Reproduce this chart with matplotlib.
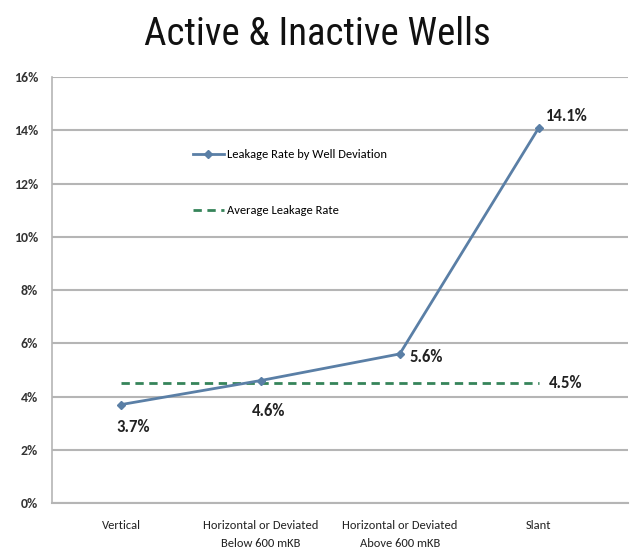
import matplotlib
matplotlib.use("Agg")
import matplotlib.pyplot as plt

categories = ["Vertical", "Horizontal or Deviated\nBelow 600 mKB",
              "Horizontal or Deviated\nAbove 600 mKB", "Slant"]
leak_rate = [3.7, 4.6, 5.6, 14.1]
avg_rate = 4.5
point_labels = ["3.7%", "4.6%", "5.6%", "14.1%"]
y_ticks = [0, 2, 4, 6, 8, 10, 12, 14, 16]

plt.rcParams['font.family'] = ['Carlito', 'DejaVu Sans']

line_col = '#5a7fa6'
avg_col = '#36845a'

fig = plt.figure(figsize=(6.33, 5.54), dpi=100)
ax = fig.add_axes([0.082, 0.092, 0.910, 0.769])

x = list(range(len(categories)))
ax.plot(x, leak_rate, color=line_col, linewidth=2, marker='D', markersize=4,
        label="Leakage Rate by Well Deviation", zorder=5)
ax.plot([x[0], x[-1]], [avg_rate, avg_rate], color=avg_col, linewidth=2,
        linestyle=(0, (3, 2)), label="Average Leakage Rate", zorder=4)

# data labels (offset from point, in data units)
offsets = [(-0.035, -0.86), (0.06, -1.15), (0.07, -0.1), (0.05, 0.45)]
aligns = ['left', 'center', 'left', 'left']
for i, (dx, dy) in enumerate(offsets):
    ax.text(x[i] + dx, leak_rate[i] + dy, point_labels[i], fontsize=12, fontweight='bold',
            ha=aligns[i], va='center', color='#222222')
ax.text(x[-1] + 0.07, avg_rate, "4.5%", fontsize=12, fontweight='bold',
        ha='left', va='center', color='#222222')

ax.set_xlim(-0.5, 3.64)
ax.set_ylim(0, 16)
ax.set_yticks(y_ticks)
ax.set_yticklabels([f"{t}%" for t in y_ticks], fontsize=10, fontweight='bold', color='#333333')
ax.set_xticks(x)
ax.set_xticklabels(categories, fontsize=9, color='#222222', linespacing=1.85)
ax.tick_params(axis='y', length=0, pad=10)
ax.tick_params(axis='x', length=0, pad=12)

ax.grid(axis='y', color='#b5b5b5', linewidth=1.5)
ax.set_axisbelow(True)
for s in ['top', 'right']:
    ax.spines[s].set_visible(False)
ax.spines['left'].set_color('#b5b5b5')
ax.spines['bottom'].set_color('#b5b5b5')
ax.spines['left'].set_linewidth(1.2)
ax.spines['bottom'].set_linewidth(1.5)

ax.legend(loc='upper left', bbox_to_anchor=(0.236, 0.842), frameon=False,
          fontsize=9, labelspacing=3.6, handlelength=2.5, handletextpad=0.2,
          borderaxespad=0)

fig.text(0.501, 0.937, "Active & Inactive Wells", fontsize=28, ha='center', va='center',
         color='#111111', family=['Roboto Condensed', 'DejaVu Sans'])

fig.savefig("out.png", dpi=100)
